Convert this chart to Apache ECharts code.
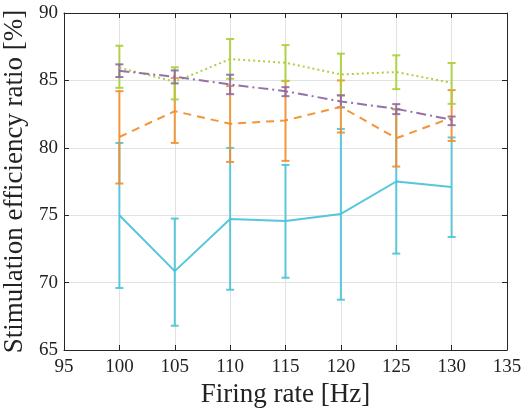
<!DOCTYPE html>
<html><head><meta charset="utf-8">
<script src="https://cdn.jsdelivr.net/npm/echarts@6/dist/echarts.min.js"></script>
<style>html,body{margin:0;padding:0;background:#fff}#c{width:522px;height:408px}</style>
</head><body><div id="c"></div>
<script>
const firingRates = [100, 105, 110, 115, 120, 125, 130];
const cyanMean = [75.0, 70.85, 74.72, 74.57, 75.09, 77.5, 77.1];
const cyanLow  = [69.6, 66.8, 69.47, 70.36, 68.73, 72.15, 73.38];
const cyanHigh = [80.36, 74.75, 79.99, 78.73, 81.4, 82.85, 80.77];
const orangeMean = [80.8, 82.72, 81.78, 82.03, 83.04, 80.71, 82.23];
const orangeLow  = [77.35, 80.36, 78.95, 79.03, 81.13, 78.61, 80.51];
const orangeHigh = [84.2, 85.17, 84.58, 84.95, 85.0, 82.87, 84.28];
const greenMean = [85.94, 84.9, 86.58, 86.31, 85.44, 85.62, 84.82];
const greenLow  = [84.45, 83.59, 85.12, 84.97, 83.89, 84.35, 83.26];
const greenHigh = [87.57, 85.97, 88.07, 87.62, 86.98, 86.86, 86.29];
const purpleMean = [85.71, 85.27, 84.7, 84.2, 83.44, 82.89, 82.08];
const purpleLow  = [85.25, 84.78, 83.98, 83.83, 83.0, 82.5, 81.68];
const purpleHigh = [86.19, 85.74, 85.42, 84.5, 83.89, 83.24, 82.32];

const FONT = '"Liberation Serif", "DejaVu Serif", serif';
const chart = echarts.init(document.getElementById('c'), null, {renderer: 'canvas'});

function pairs(m) { return firingRates.map((x, i) => [x, m[i]]); }
function errs(lo, hi) { return firingRates.map((x, i) => [x, lo[i], hi[i]]); }

function errSeries(lo, hi, color) {
  return {
    type: 'custom',
    data: errs(lo, hi),
    z: 3,
    renderItem: function (params, api) {
      const x = api.value(0);
      const pl = api.coord([x, api.value(1)]);
      const ph = api.coord([x, api.value(2)]);
      const w = 4;
      const st = {stroke: color, lineWidth: 2, opacity: 0.9};
      return {
        type: 'group',
        children: [
          {type: 'line', shape: {x1: pl[0], y1: pl[1], x2: ph[0], y2: ph[1]}, style: st},
          {type: 'line', shape: {x1: pl[0] - w, y1: pl[1], x2: pl[0] + w, y2: pl[1]}, style: st},
          {type: 'line', shape: {x1: ph[0] - w, y1: ph[1], x2: ph[0] + w, y2: ph[1]}, style: st}
        ]
      };
    },
    encode: {x: 0, y: [1, 2]},
    silent: true
  };
}
function lineSeries(m, color, type) {
  return {
    type: 'line', data: pairs(m), symbol: 'none', z: 4,
    lineStyle: {color: color, width: 2, type: type, opacity: 0.95},
    silent: true
  };
}

const C = '#4cc3d9', O = '#f28e2b', G = '#a8cf38', P = '#8e6aa1';

const axisLine = {show: true, lineStyle: {color: '#262626', width: 1}};
const tick = {show: true, inside: true, length: 5, lineStyle: {color: '#262626'}};
const split = {show: true, lineStyle: {color: '#e2e2e2', width: 1}};

chart.setOption({
  animation: false,
  grid: {left: 64, right: 15, top: 13, bottom: 58, show: false, containLabel: false, outerBoundsMode: 'none'},
  xAxis: [{
    type: 'value', min: 95, max: 135, interval: 5,
    name: 'Firing rate [Hz]', nameLocation: 'middle', nameGap: 30,
    nameTextStyle: {fontFamily: FONT, fontSize: 27, color: '#222'},
    axisLine: axisLine, axisTick: tick, splitLine: split,
    axisLabel: {fontFamily: FONT, fontSize: 19, color: '#222', margin: 8}
  }, {
    type: 'value', min: 95, max: 135, interval: 5, position: 'top',
    axisLine: axisLine, axisTick: tick, splitLine: {show: false}, axisLabel: {show: false}
  }],
  yAxis: [{
    type: 'value', min: 65, max: 90, interval: 5,
    name: 'Stimulation efficiency ratio [%]', nameLocation: 'middle', nameGap: 25,
    nameTextStyle: {fontFamily: FONT, fontSize: 27, color: '#222'},
    axisLine: axisLine, axisTick: tick, splitLine: split,
    axisLabel: {fontFamily: FONT, fontSize: 19, color: '#222', margin: 6}
  }, {
    type: 'value', min: 65, max: 90, interval: 5, position: 'right',
    axisLine: axisLine, axisTick: tick, splitLine: {show: false}, axisLabel: {show: false}
  }],
  series: [
    lineSeries(cyanMean, C, 'solid'), errSeries(cyanLow, cyanHigh, C),
    lineSeries(orangeMean, O, [8, 6]), errSeries(orangeLow, orangeHigh, O),
    lineSeries(greenMean, G, [2, 3]), errSeries(greenLow, greenHigh, G),
    lineSeries(purpleMean, P, [10, 4, 2, 4]), errSeries(purpleLow, purpleHigh, P)
  ]
});
</script></body></html>
